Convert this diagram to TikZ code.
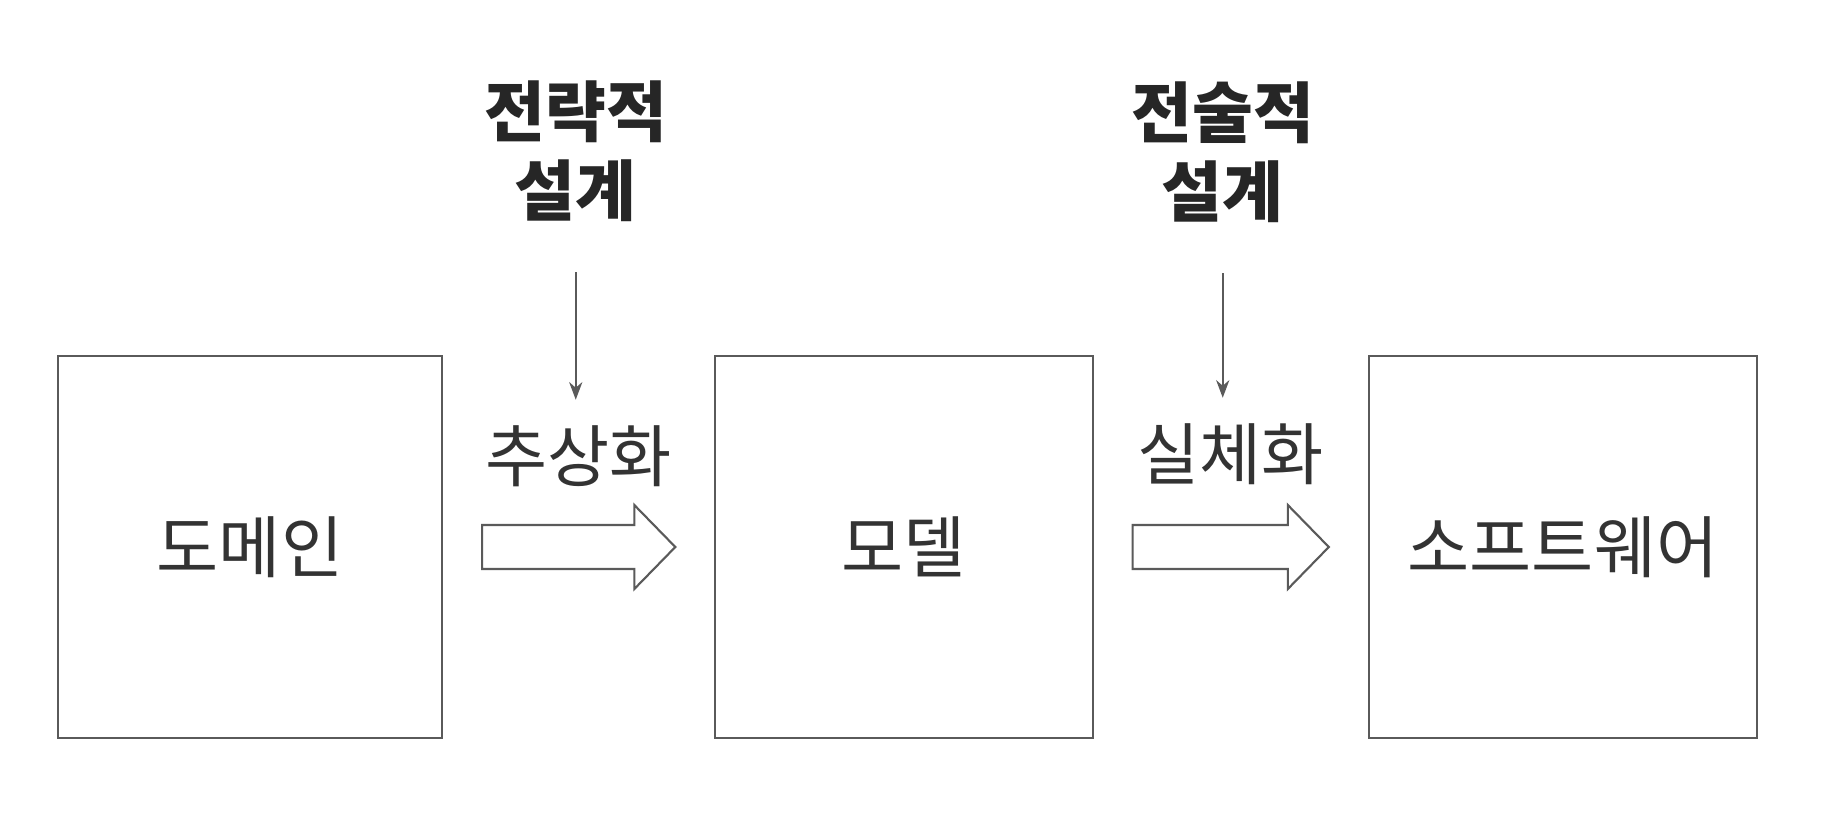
\documentclass[tikz,border=0pt]{standalone}
\usepackage{fontspec}
\setmainfont{Noto Sans CJK KR}
\usepackage{xcolor}
\usepackage{tikz}
\usetikzlibrary{arrows.meta, positioning, calc}
\definecolor{linegray}{HTML}{5A5A5A}
\definecolor{textgray}{HTML}{333333}
\definecolor{headblack}{HTML}{262626}

\begin{document}
\begin{tikzpicture}[x=0.01cm, y=-0.01cm, >=Stealth, font=\fontsize{19.2}{22}\selectfont,
    box/.style={draw=linegray, line width=0.6pt, text=textgray, minimum height=3.81cm, inner sep=0pt},
    verbnode/.style={text=textgray, inner sep=0pt},
    headnode/.style={font=\fontsize{18.8}{22.5}\selectfont\bfseries, text=headblack, align=center, inner sep=0pt},
    thinarrow/.style={->, draw=linegray, line width=0.45pt, shorten <=0.5cm, shorten >=0.25cm}]
    \useasboundingbox[fill=white] (0,0) rectangle (1830,830);

    % Boxes
    \node[box, minimum width=3.84cm] (domain) at (250,547) {도메인};
    \node[box, minimum width=3.77cm, right=2.71cm of domain] (model) {모델};
    \node[box, minimum width=3.88cm, right=2.74cm of model] (software) {소프트웨어};

    % Block arrows between boxes
    \foreach \src/\dst in {domain/model, model/software}{
        \draw[linegray, line width=0.6pt]
            ($(\src.east)+(39,-22)$) -- ($(\dst.west)+(-80,-22)$) -- ($(\dst.west)+(-80,-42)$)
            -- ($(\dst.west)+(-39,0)$) -- ($(\dst.west)+(-80,42)$) -- ($(\dst.west)+(-80,22)$)
            -- ($(\src.east)+(39,22)$) -- cycle;
    }

    % Step labels
    \node[verbnode] (abstr) at ($(domain.east)!0.5!(model.west)+(0,-91)$) {추상화};
    \node[verbnode] (concr) at ($(model.east)!0.5!(software.west)+(0,-93)$) {실체화};

    % Design levels
    \node[headnode] (strategic) at ($(abstr)+(-3,-305)$) {전략적\\설계};
    \node[headnode] (tactical) at ($(concr)+(-8,-302)$) {전술적\\설계};
    \draw[thinarrow] (strategic.south) -- (strategic.south |- abstr.north);
    \draw[thinarrow] (tactical.south) -- (tactical.south |- concr.north);
\end{tikzpicture}
\end{document}
